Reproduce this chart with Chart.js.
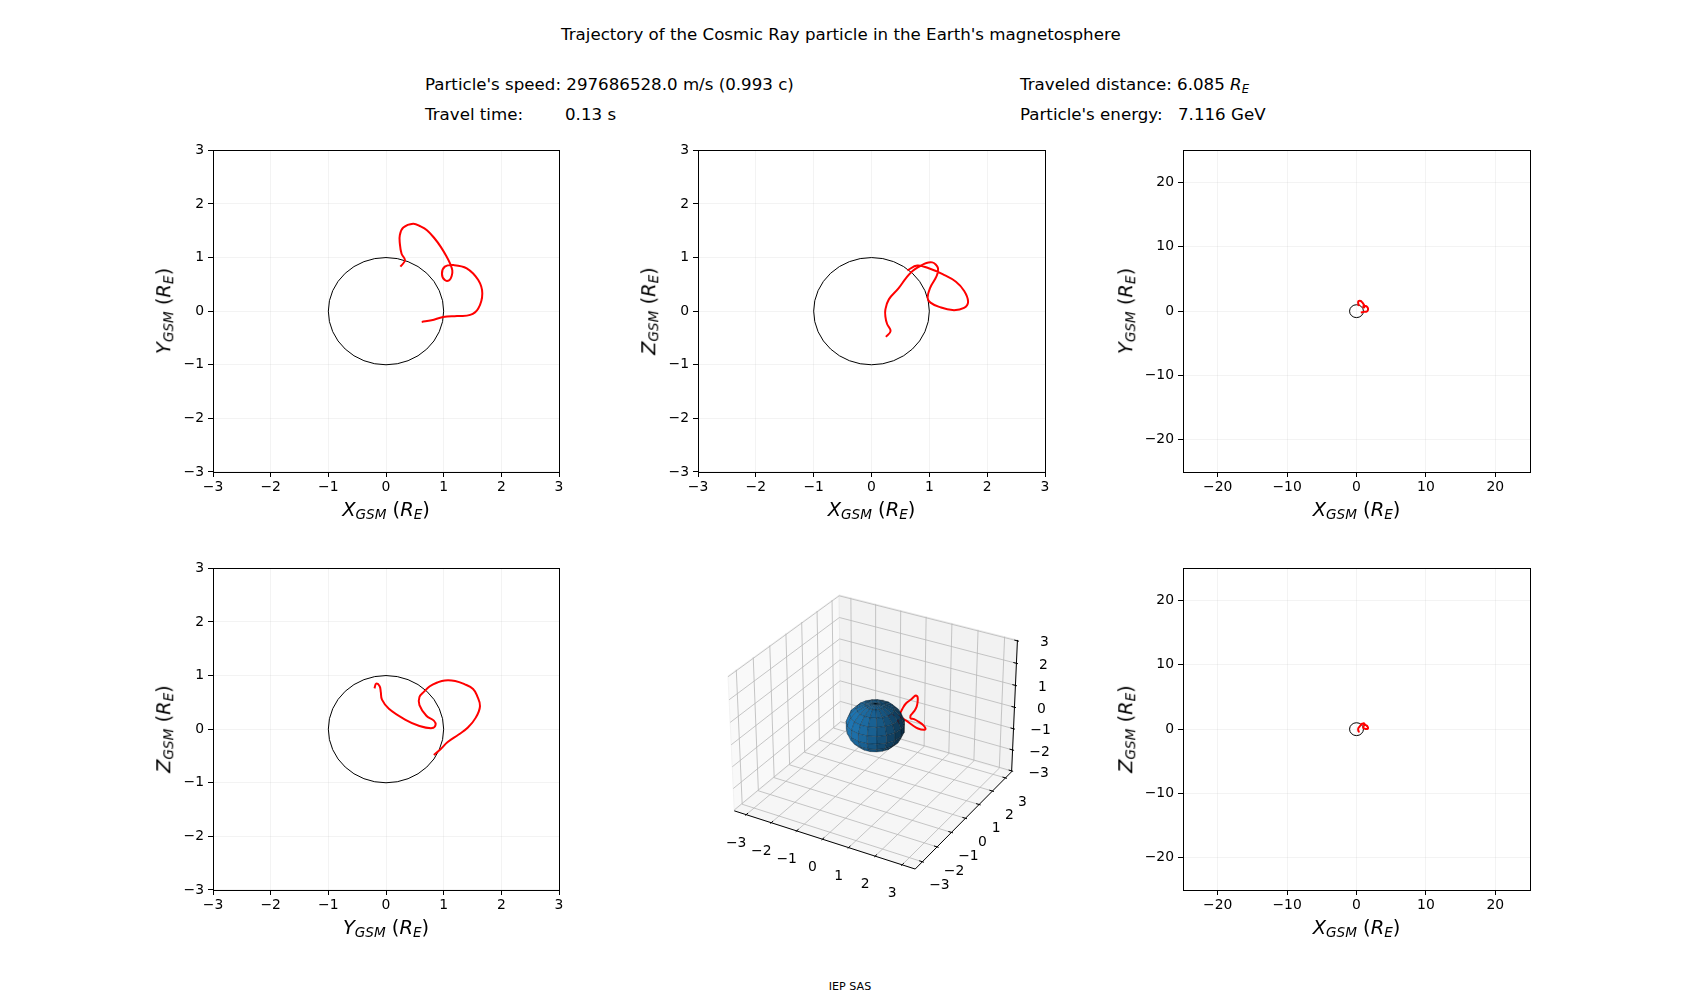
<!DOCTYPE html>
<html>
<head>
<meta charset="utf-8">
<title>Trajectory of the Cosmic Ray particle</title>
<script src="https://cdn.jsdelivr.net/npm/chart.js@4.4.1/dist/chart.umd.min.js"></script>
<style>
  html, body { margin: 0; padding: 0; background: #fff; }
  #fig { position: relative; width: 1700px; height: 1000px; overflow: hidden; font-family: 'DejaVu Sans', sans-serif; color: #000; }
  #fig canvas { position: absolute; }
  .txt { position: absolute; white-space: pre; font-size: 16.67px; line-height: 16.67px; }
  .txt sub, .lab sub { font-size: 0.7em; vertical-align: -3px; line-height: 0; }
  .lab { position: absolute; white-space: nowrap; font-size: 19.44px; line-height: 19.44px; transform: translate(-50%, -50%); }
  .lab.rot { transform: translate(-50%, -50%) rotate(-90deg); }
  .foot { position: absolute; white-space: nowrap; font-size: 11.11px; line-height: 11.11px; transform: translateX(-50%); }
</style>
</head>
<body>
<div id="fig">
  <div class="txt" style="left:561px;top:27.4px">Trajectory of the Cosmic Ray particle in the Earth's magnetosphere</div>
  <div class="txt" style="left:425px;top:77.4px">Particle's speed: 297686528.0 m/s (0.993 c)</div>
  <div class="txt" style="left:425px;top:107.4px">Travel time:</div>
  <div class="txt" style="left:565px;top:107.4px">0.13 s</div>
  <div class="txt" style="left:1020px;top:77.4px">Traveled distance: 6.085 <i>R</i><sub><i>E</i></sub></div>
  <div class="txt" style="left:1020px;top:107.4px">Particle's energy:</div>
  <div class="txt" style="left:1178px;top:107.4px">7.116 GeV</div>
  <div class="foot" style="left:850px;top:980.6px">IEP SAS</div>
</div>
<script>
// trajectory (GSM, Earth radii)
const trajX = [0.25, 0.33, 0.27, 0.24, 0.24, 0.30, 0.47, 0.60, 0.71, 0.84, 0.95, 1.05, 1.11, 1.15, 1.14,
               1.10, 1.02, 0.97, 1.02, 1.17, 1.40, 1.60, 1.67, 1.60, 1.46, 1.23, 0.99, 0.79, 0.62];
const trajY = [0.83, 0.95, 1.07, 1.26, 1.42, 1.56, 1.63, 1.58, 1.51, 1.36, 1.20, 1.02, 0.89, 0.76, 0.66,
               0.58, 0.58, 0.70, 0.83, 0.86, 0.80, 0.58, 0.33, 0.05, -0.07, -0.09, -0.11, -0.17, -0.20];
const trajZ = [-0.48, -0.37, -0.24, -0.10, 0.03, 0.22, 0.43, 0.62, 0.75, 0.84, 0.90, 0.91, 0.87, 0.80, 0.70,
               0.60, 0.45, 0.25, 0.16, 0.08, 0.02, 0.06, 0.18, 0.38, 0.55, 0.69, 0.80, 0.85, 0.76];

const earthRadius = 1;

const nearLim = [-3, 3];
const nearTicks = [-3, -2, -1, 0, 1, 2, 3];
const farLim = [-25, 25];
const farTicks = [-20, -10, 0, 10, 20];

// 3d axes limits and ticks
const lim3dX = [-3.48, 3.48];
const lim3dY = [-3.48, 3.48];
const lim3dZ = [-3.04, 3.04];
const ticks3d = [-3, -2, -1, 0, 1, 2, 3];

// projection plane limits of the 3d axes
const view3dX = [-0.0978, 0.0935];
const view3dY = [-0.0915, 0.0878];

Chart.defaults.font.family = "'DejaVu Sans', sans-serif";
Chart.defaults.color = '#000';

const fig = document.getElementById('fig');
const MINUS = '\u2212';
const fmt = v => v < 0 ? MINUS + Math.abs(v) : String(v);

// ---------- 2d panels ----------
const earthPlugin = {
  id: 'earth',
  beforeDatasetsDraw(chart) {
    const { ctx, scales: { x, y } } = chart;
    const cx = x.getPixelForValue(0), cy = y.getPixelForValue(0);
    const rx = Math.abs(x.getPixelForValue(earthRadius) - cx);
    const ry = Math.abs(y.getPixelForValue(earthRadius) - cy);
    ctx.save();
    ctx.beginPath();
    ctx.ellipse(cx, cy, rx, ry, 0, 0, Math.PI * 2);
    ctx.strokeStyle = '#000';
    ctx.lineWidth = 1;
    ctx.stroke();
    ctx.restore();
  },
  afterDraw(chart) {
    const { ctx, chartArea: a } = chart;
    ctx.save();
    ctx.strokeStyle = '#000';
    ctx.lineWidth = 1;
    ctx.strokeRect(Math.round(a.left) + 0.5, Math.round(a.top) + 0.5, Math.round(a.right - a.left), Math.round(a.bottom - a.top));
    ctx.restore();
  }
};

function axisOpts(lim, ticks, dir, size) {
  return {
    type: 'linear',
    min: lim[0],
    max: lim[1],
    afterBuildTicks: s => { s.ticks = ticks.map(v => ({ value: v })); },
    afterFit: s => { if (dir === 'x') s.height = size; else s.width = size; },
    ticks: { autoSkip: false, maxRotation: 0, padding: dir === 'x' ? 2 : 4, font: { size: 13.9 }, callback: fmt },
    grid: { color: 'rgba(176,176,176,0.2)', lineWidth: 0.8, tickLength: 5, tickColor: '#000', tickWidth: 1 },
    border: { display: false }
  };
}

const labelHtml = L => `<i>${L}</i><sub><i>GSM</i></sub> (<i>R</i><sub><i>E</i></sub>)`;

function addLabel(html, cx, cy, rot) {
  const d = document.createElement('div');
  d.className = 'lab' + (rot ? ' rot' : '');
  d.style.left = cx + 'px';
  d.style.top = cy + 'px';
  d.innerHTML = html;
  fig.appendChild(d);
}

const panels = [
  { h: trajX, v: trajY, hName: 'X', vName: 'Y', lim: nearLim, ticks: nearTicks, left: 213, top: 150, w: 346, ht: 322, ylOff: 48.7 },
  { h: trajX, v: trajZ, hName: 'X', vName: 'Z', lim: nearLim, ticks: nearTicks, left: 698, top: 150, w: 347, ht: 322, ylOff: 48.7 },
  { h: trajX, v: trajY, hName: 'X', vName: 'Y', lim: farLim, ticks: farTicks, left: 1183, top: 150, w: 347, ht: 322, ylOff: 57.5 },
  { h: trajY, v: trajZ, hName: 'Y', vName: 'Z', lim: nearLim, ticks: nearTicks, left: 213, top: 568, w: 346, ht: 322, ylOff: 48.7 },
  { h: trajX, v: trajZ, hName: 'X', vName: 'Z', lim: farLim, ticks: farTicks, left: 1183, top: 568, w: 347, ht: 322, ylOff: 57.5 }
];

panels.forEach(p => {
  const padL = 80, padT = 12, padR = 16, padB = 32;
  const cv = document.createElement('canvas');
  cv.width = p.w + padL + padR;
  cv.height = p.ht + padT + padB;
  cv.style.left = (p.left - padL) + 'px';
  cv.style.top = (p.top - padT) + 'px';
  cv.style.width = cv.width + 'px';
  cv.style.height = cv.height + 'px';
  fig.appendChild(cv);

  new Chart(cv, {
    type: 'scatter',
    data: {
      datasets: [{
        data: p.h.map((x, i) => ({ x: x, y: p.v[i] })),
        showLine: true,
        borderColor: '#ff0000',
        borderWidth: 2,
        pointRadius: 0,
        tension: 0.4
      }]
    },
    options: {
      responsive: false,
      animation: false,
      devicePixelRatio: 1,
      layout: { padding: { top: padT, right: padR, left: 0, bottom: 0 } },
      plugins: { legend: { display: false }, tooltip: { enabled: false } },
      scales: {
        x: axisOpts(p.lim, p.ticks, 'x', padB),
        y: axisOpts(p.lim, p.ticks, 'y', padL)
      }
    },
    plugins: [earthPlugin]
  });

  addLabel(labelHtml(p.hName), p.left + p.w / 2, p.top + p.ht + 38.3, false);
  addLabel(labelHtml(p.vName), p.left - p.ylOff, p.top + p.ht / 2, true);
});

// ---------- 3d panel (elev 30, azim -60, box aspect 4:4:3) ----------
const ELEV = 30 * Math.PI / 180, AZIM = -60 * Math.PI / 180, DIST = 10;
const ASPECT = [8 / 7, 8 / 7, 6 / 7];
const W = [Math.cos(ELEV) * Math.cos(AZIM), Math.cos(ELEV) * Math.sin(AZIM), Math.sin(ELEV)];
const U = (() => { const c = [-W[1], W[0], 0]; const n = Math.hypot(c[0], c[1]); return [c[0] / n, c[1] / n, 0]; })();
const V = [W[1] * U[2] - W[2] * U[1], W[2] * U[0] - W[0] * U[2], W[0] * U[1] - W[1] * U[0]];
const dot = (a, b) => a[0] * b[0] + a[1] * b[1] + a[2] * b[2];
const K = [ASPECT[0] / (lim3dX[1] - lim3dX[0]), ASPECT[1] / (lim3dY[1] - lim3dY[0]), ASPECT[2] / (lim3dZ[1] - lim3dZ[0])];
const MID = [(lim3dX[0] + lim3dX[1]) / 2, (lim3dY[0] + lim3dY[1]) / 2, (lim3dZ[0] + lim3dZ[1]) / 2];

function normd(x, y, z) {
  return [(x - MID[0]) * K[0], (y - MID[1]) * K[1], (z - MID[2]) * K[2]];
}
function project(x, y, z) {
  const d = normd(x, y, z);
  const den = DIST - dot(W, d);
  return [dot(U, d) / den, dot(V, d) / den];
}

const LIGHT = [-0.6667, -0.6667, 0.3333];
const sphereLon = 20, sphereLat = 10;
const labelShift3d = { x: [-10, 28.5], y: [17, 24], z: [27, 2] };

const axes3dPlugin = {
  id: 'axes3d',
  beforeDatasetsDraw(chart) {
    const ctx = chart.ctx;
    const P = (x, y, z) => { const q = project(x, y, z); return [chart.scales.x.getPixelForValue(q[0]), chart.scales.y.getPixelForValue(q[1])]; };
    const [X0, X1] = lim3dX, [Y0, Y1] = lim3dY, [Z0, Z1] = lim3dZ;
    const path = pts => {
      ctx.beginPath();
      pts.forEach((p, i) => { const s = P(p[0], p[1], p[2]); if (i) ctx.lineTo(s[0], s[1]); else ctx.moveTo(s[0], s[1]); });
    };

    ctx.save();
    // panes: x = min (left), y = max (back), z = min (floor)
    const panes = [
      { pts: [[X0, Y0, Z0], [X0, Y1, Z0], [X0, Y1, Z1], [X0, Y0, Z1]], fill: 'rgb(249,249,249)', edge: 'rgb(242,242,242)' },
      { pts: [[X0, Y1, Z0], [X1, Y1, Z0], [X1, Y1, Z1], [X0, Y1, Z1]], fill: 'rgb(242,242,242)', edge: 'rgb(234,234,234)' },
      { pts: [[X0, Y0, Z0], [X1, Y0, Z0], [X1, Y1, Z0], [X0, Y1, Z0]], fill: 'rgb(246,246,246)', edge: 'rgb(238,238,238)' }
    ];
    panes.forEach(pn => {
      path(pn.pts);
      ctx.closePath();
      ctx.fillStyle = pn.fill;
      ctx.fill();
      ctx.strokeStyle = pn.edge;
      ctx.lineWidth = 1;
      ctx.stroke();
    });

    // grid
    ctx.strokeStyle = '#b8b8b8';
    ctx.lineWidth = 0.8;
    ticks3d.forEach(t => {
      path([[t, Y0, Z0], [t, Y1, Z0], [t, Y1, Z1]]); ctx.stroke();
      path([[X1, t, Z0], [X0, t, Z0], [X0, t, Z1]]); ctx.stroke();
      path([[X0, Y0, t], [X0, Y1, t], [X1, Y1, t]]); ctx.stroke();
    });

    // axis lines
    ctx.strokeStyle = '#000';
    ctx.lineWidth = 1;
    path([[X0, Y0, Z0], [X1, Y0, Z0]]); ctx.stroke();
    path([[X1, Y0, Z0], [X1, Y1, Z0]]); ctx.stroke();
    path([[X1, Y1, Z0], [X1, Y1, Z1]]); ctx.stroke();

    // ticks and labels
    const dX = (X1 - X0) / 12, dY = (Y1 - Y0) / 12;
    ctx.font = "13.9px 'DejaVu Sans'";
    ctx.fillStyle = '#000';
    ctx.textAlign = 'center';
    ctx.textBaseline = 'middle';
    ticks3d.forEach(t => {
      path([[t, Y0 - 0.1 * dY, Z0], [t, Y0 + 0.2 * dY, Z0]]); ctx.stroke();
      path([[X1 + 0.1 * dX, t, Z0], [X1 - 0.2 * dX, t, Z0]]); ctx.stroke();
      path([[X1 + 0.1 * dX, Y1, t], [X1 - 0.2 * dX, Y1, t]]); ctx.stroke();
      let s = P(t, Y0, Z0);
      ctx.fillText(fmt(t), s[0] + labelShift3d.x[0], s[1] + labelShift3d.x[1]);
      s = P(X1, t, Z0);
      ctx.fillText(fmt(t), s[0] + labelShift3d.y[0], s[1] + labelShift3d.y[1]);
      s = P(X1, Y1, t);
      ctx.fillText(fmt(t), s[0] + labelShift3d.z[0], s[1] + labelShift3d.z[1]);
    });
    ctx.restore();
  },
  afterDatasetsDraw(chart) {
    // Earth as a shaded sphere mesh
    const ctx = chart.ctx;
    const P = (p) => { const q = project(p[0], p[1], p[2]); return [chart.scales.x.getPixelForValue(q[0]), chart.scales.y.getPixelForValue(q[1])]; };
    const pt = (i, j) => {
      const u = 2 * Math.PI * i / (sphereLon - 1), v = Math.PI * j / (sphereLat - 1);
      return [earthRadius * Math.cos(u) * Math.sin(v), earthRadius * Math.sin(u) * Math.sin(v), earthRadius * Math.cos(v)];
    };
    ctx.save();
    ctx.lineJoin = 'round';
    for (let i = 0; i < sphereLon - 1; i++) {
      for (let j = 0; j < sphereLat - 1; j++) {
        const q = [pt(i, j), pt(i + 1, j), pt(i + 1, j + 1), pt(i, j + 1)];
        const c = [0, 1, 2].map(k => (q[0][k] + q[1][k] + q[2][k] + q[3][k]) / 4);
        const cl = Math.hypot(c[0], c[1], c[2]);
        const n = c.map(v => v / cl);
        const nn = [n[0] / K[0], n[1] / K[1], n[2] / K[2]];
        const dc = normd(c[0], c[1], c[2]);
        const view = [DIST * W[0] - dc[0], DIST * W[1] - dc[1], DIST * W[2] - dc[2]];
        if (dot(nn, view) <= 0) continue;
        const f = 0.3 + 0.7 * (dot(n, LIGHT) + 1) / 2;
        ctx.beginPath();
        q.forEach((p, k) => { const s = P(p); if (k) ctx.lineTo(s[0], s[1]); else ctx.moveTo(s[0], s[1]); });
        ctx.closePath();
        ctx.fillStyle = `rgb(${Math.round(31 * f)},${Math.round(119 * f)},${Math.round(180 * f)})`;
        ctx.fill();
        ctx.strokeStyle = 'rgba(0,0,0,0.45)';
        ctx.lineWidth = 0.5;
        ctx.stroke();
      }
    }
    ctx.restore();
  }
};

(() => {
  const box = { left: 698, top: 568, w: 347, ht: 322 };
  const pad = { left: 40, top: 20, right: 55, bottom: 45 };
  const cv = document.createElement('canvas');
  cv.width = box.w + pad.left + pad.right;
  cv.height = box.ht + pad.top + pad.bottom;
  cv.style.left = (box.left - pad.left) + 'px';
  cv.style.top = (box.top - pad.top) + 'px';
  cv.style.width = cv.width + 'px';
  cv.style.height = cv.height + 'px';
  fig.appendChild(cv);

  new Chart(cv, {
    type: 'scatter',
    data: {
      datasets: [{
        data: trajX.map((x, i) => { const q = project(x, trajY[i], trajZ[i]); return { x: q[0], y: q[1] }; }),
        showLine: true,
        borderColor: '#ff0000',
        borderWidth: 2,
        pointRadius: 0,
        tension: 0.4,
        clip: false
      }]
    },
    options: {
      responsive: false,
      animation: false,
      devicePixelRatio: 1,
      layout: { padding: pad },
      plugins: { legend: { display: false }, tooltip: { enabled: false } },
      scales: {
        x: { type: 'linear', display: false, min: view3dX[0], max: view3dX[1] },
        y: { type: 'linear', display: false, min: view3dY[0], max: view3dY[1] }
      }
    },
    plugins: [axes3dPlugin]
  });
})();
</script>
</body>
</html>
